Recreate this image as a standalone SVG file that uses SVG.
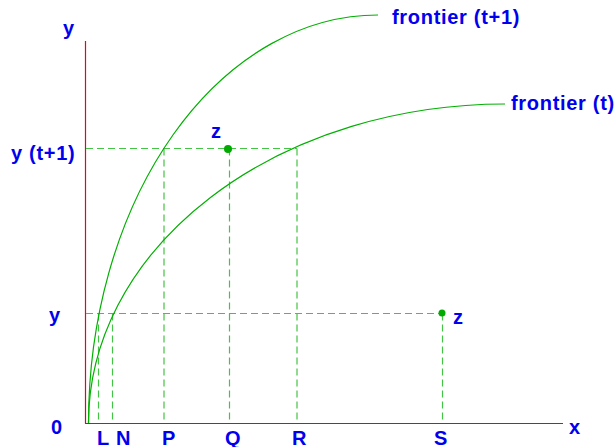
<svg xmlns="http://www.w3.org/2000/svg" width="614" height="447" viewBox="0 0 614 447">
<style>
.lbl{font-family:"Liberation Sans",Arial,sans-serif;font-weight:bold;font-size:20px;letter-spacing:0.7px;fill:#0000ee}
.axis{stroke:#e8002a;stroke-width:1.2;fill:none}
.curve{stroke:#00b000;stroke-width:1.2;fill:none}
.dash{stroke:#44c444;stroke-width:1.2;stroke-dasharray:7 4;fill:none}
.dot{fill:#00aa00}
</style>
<rect width="614" height="447" fill="#ffffff"/>
<g id="axes">
<line class="axis" x1="85.5" y1="41" x2="85.5" y2="423.5"/>
<line class="axis" x1="85" y1="423.5" x2="563" y2="423.5"/>
</g>
<g id="connectors">
<line class="dash" x1="86" y1="148.5" x2="297" y2="148.5"/>
<line class="dash" x1="86" y1="313.5" x2="442" y2="313.5"/>
<line class="dash" x1="98.5" y1="313.5" x2="98.5" y2="423"/>
<line class="dash" x1="112.5" y1="313.5" x2="112.5" y2="423"/>
<line class="dash" x1="164" y1="148.5" x2="164" y2="423"/>
<line class="dash" x1="229.5" y1="148.5" x2="229.5" y2="423"/>
<line class="dash" x1="297" y1="148.5" x2="297" y2="423"/>
<line class="dash" x1="442.5" y1="313.5" x2="442.5" y2="423"/>
</g>
<g id="frontier-t1">
<path class="curve" d="M88.5 423 A289.5 408 0 0 1 378 15"/>
<text class="lbl" x="392" y="24">frontier (t+1)</text>
</g>
<g id="frontier-t">
<path class="curve" d="M88.5 423 A416.5 319 0 0 1 505 104"/>
<text class="lbl" x="511" y="110">frontier (t)</text>
</g>
<g id="z-upper">
<circle class="dot" cx="228" cy="149" r="4"/>
<text class="lbl" x="211" y="138">z</text>
</g>
<g id="z-lower">
<circle class="dot" cx="442" cy="313" r="3.5"/>
<text class="lbl" x="453" y="324">z</text>
</g>
<g id="labels">
<text class="lbl" x="63" y="35">y</text>
<text class="lbl" x="11" y="160">y (t+1)</text>
<text class="lbl" x="49" y="322">y</text>
<text class="lbl" x="51" y="434">0</text>
<text class="lbl" x="97" y="445">L</text>
<text class="lbl" x="116" y="445">N</text>
<text class="lbl" x="162" y="445">P</text>
<text class="lbl" x="225" y="445">Q</text>
<text class="lbl" x="292" y="445">R</text>
<text class="lbl" x="434" y="445">S</text>
<text class="lbl" x="569" y="434">x</text>
</g>
</svg>
